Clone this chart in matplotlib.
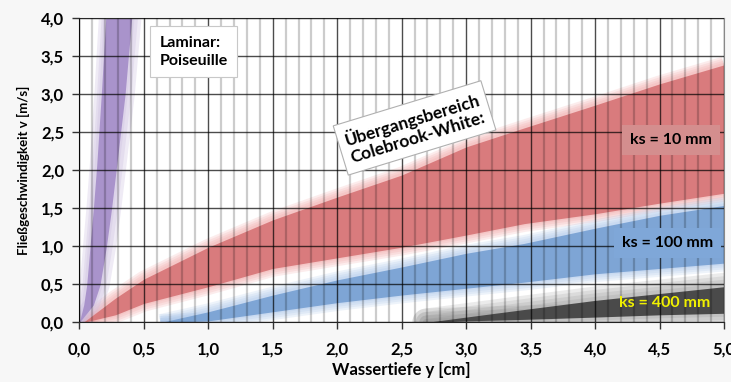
import numpy as np
import matplotlib.pyplot as plt
from matplotlib.ticker import MultipleLocator, FuncFormatter

plt.rcParams['font.family'] = ['Lato', 'DejaVu Sans']

# ks = 10 mm (rot)
x_red = [0.03, 0.28, 0.5, 1.0, 1.5, 2.0, 2.5, 3.0, 3.45, 4.0, 4.5, 5.0]
red_hi = [0.0, 0.32, 0.57, 0.99, 1.35, 1.65, 1.94, 2.31, 2.56, 2.86, 3.14, 3.39]
red_lo = [0.0, 0.10, 0.25, 0.47, 0.71, 0.85, 0.99, 1.15, 1.30, 1.43, 1.57, 1.70]

# ks = 100 mm (blau)
x_blue = [0.63, 1.0, 1.5, 2.0, 2.5, 3.0, 3.45, 4.0, 4.5, 5.0]
blue_hi = [0.0, 0.14, 0.36, 0.56, 0.73, 0.91, 1.04, 1.24, 1.41, 1.54]
blue_lo = [0.0, 0.02, 0.14, 0.26, 0.36, 0.45, 0.53, 0.64, 0.71, 0.78]

# ks = 400 mm (schwarz)
x_black = [2.69, 3.0, 3.45, 4.0, 4.5, 5.0]
black_hi = [0.0, 0.07, 0.17, 0.29, 0.38, 0.47]
black_lo = [0.0, 0.02, 0.04, 0.07, 0.10, 0.12]

# laminar (Poiseuille), x als Funktion von v
v_lam = [0.0, 0.23, 0.49, 1.0, 1.5, 2.07, 2.99, 4.0]
lam_left = [0.0, 0.034, 0.057, 0.083, 0.109, 0.135, 0.17, 0.205]
lam_right = [0.0, 0.109, 0.16, 0.21, 0.25, 0.29, 0.354, 0.406]


def comma(v, pos):
    return f"{v:.1f}".replace('.', ',')


def halo(ax, x, y, color, widths=(12, 9, 6, 3), alpha=0.18, vertical=False, cap='butt'):
    for w in widths:
        if vertical:
            ax.plot(y, x, color=color, lw=w, alpha=alpha, zorder=1,
                    solid_capstyle=cap)
        else:
            ax.plot(x, y, color=color, lw=w, alpha=alpha, zorder=1,
                    solid_capstyle=cap)


fig = plt.figure(figsize=(7.31, 3.82), dpi=100, facecolor='#f7f7f7')
ax = fig.add_axes([0.1085, 0.156, 0.882, 0.7956])
ax.set_facecolor('white')

# weiche Ränder
halo(ax, x_red, red_hi, '#f09a9a')
halo(ax, x_red, red_lo, '#f09a9a')
halo(ax, x_blue, blue_hi, '#a0bfe8')
halo(ax, x_blue, blue_lo, '#a0bfe8')
halo(ax, x_black, black_hi, '#888888', widths=(20, 15, 10, 5), alpha=0.16, cap='round')
halo(ax, x_black, black_lo, '#888888', widths=(20, 15, 10, 5), alpha=0.16, cap='round')
halo(ax, v_lam, lam_left, '#cbbde0', widths=(10, 6, 3), alpha=0.3, vertical=True)
halo(ax, v_lam, lam_right, '#cbbde0', widths=(14, 9, 4), alpha=0.3, vertical=True)

ax.fill_between(x_red, red_lo, red_hi, color='#d97b7d', lw=0, zorder=2)
ax.fill_between(x_blue, blue_lo, blue_hi, color='#7ea5d5', lw=0, zorder=2)
ax.fill_between(x_black, black_lo, black_hi, color='#4a4a4a', lw=0, zorder=2)
ax.fill_betweenx(v_lam, lam_left, lam_right, color='#a993cb', lw=0, zorder=2)

ax.set_xlim(0, 5)
ax.set_ylim(0, 4)
ax.xaxis.set_major_locator(MultipleLocator(0.5))
ax.yaxis.set_major_locator(MultipleLocator(0.5))
ax.xaxis.set_minor_locator(MultipleLocator(0.1))
ax.xaxis.set_major_formatter(FuncFormatter(comma))
ax.yaxis.set_major_formatter(FuncFormatter(comma))

ax.grid(which='major', color='black', alpha=0.7, lw=1.0, zorder=3)
ax.grid(which='minor', axis='x', color='black', alpha=0.2, lw=1.6, zorder=3)
ax.set_axisbelow(False)

ax.tick_params(which='major', direction='out', length=5, width=1, color='#333333',
               labelsize=12)
ax.tick_params(axis='x', which='major', pad=9)
ax.tick_params(axis='y', which='major', pad=6)
ax.tick_params(which='minor', length=0)
for lab in ax.get_xticklabels() + ax.get_yticklabels():
    lab.set_fontweight('bold')

for side in ['top', 'right']:
    ax.spines[side].set_color('#888888')
for side in ['left', 'bottom']:
    ax.spines[side].set_color('#222222')

ax.set_xlabel('Wassertiefe y [cm]', fontsize=12, fontweight='bold', labelpad=3)
ax.set_ylabel('Fließgeschwindigkeit v [m/s]', fontsize=9.5, fontweight='bold',
              labelpad=8)

ax.text(0.62, 3.56, 'Laminar:\nPoiseuille', fontsize=11.5, fontweight='bold',
        ha='left', va='center', linespacing=1.35, zorder=5,
        bbox=dict(boxstyle='square,pad=0.6', fc='white', ec='#c8c8c8', lw=0.8))
ax.text(2.6, 2.56, 'Übergangsbereich\nColebrook-White:', fontsize=12.5,
        fontweight='bold', ha='center', va='center', rotation=17,
        linespacing=1.2, zorder=5,
        bbox=dict(boxstyle='square,pad=0.4', fc='white', ec='#b0b0b0', lw=0.8))
ax.text(4.59, 2.40, 'ks = 10 mm', fontsize=11.5, fontweight='bold',
        ha='center', va='center', zorder=5,
        bbox=dict(boxstyle='square,pad=0.5', fc='#d48e8e', ec='none'))
ax.text(4.56, 1.04, 'ks = 100 mm', fontsize=11.5, fontweight='bold',
        ha='center', va='center', zorder=5,
        bbox=dict(boxstyle='square,pad=0.5', fc='#7fa7d8', ec='none'))
ax.text(4.54, 0.25, 'ks = 400 mm', fontsize=11.5, fontweight='bold',
        color='#f0f000', ha='center', va='center', zorder=5)

fig.savefig('out.png', dpi=100, facecolor=fig.get_facecolor())
